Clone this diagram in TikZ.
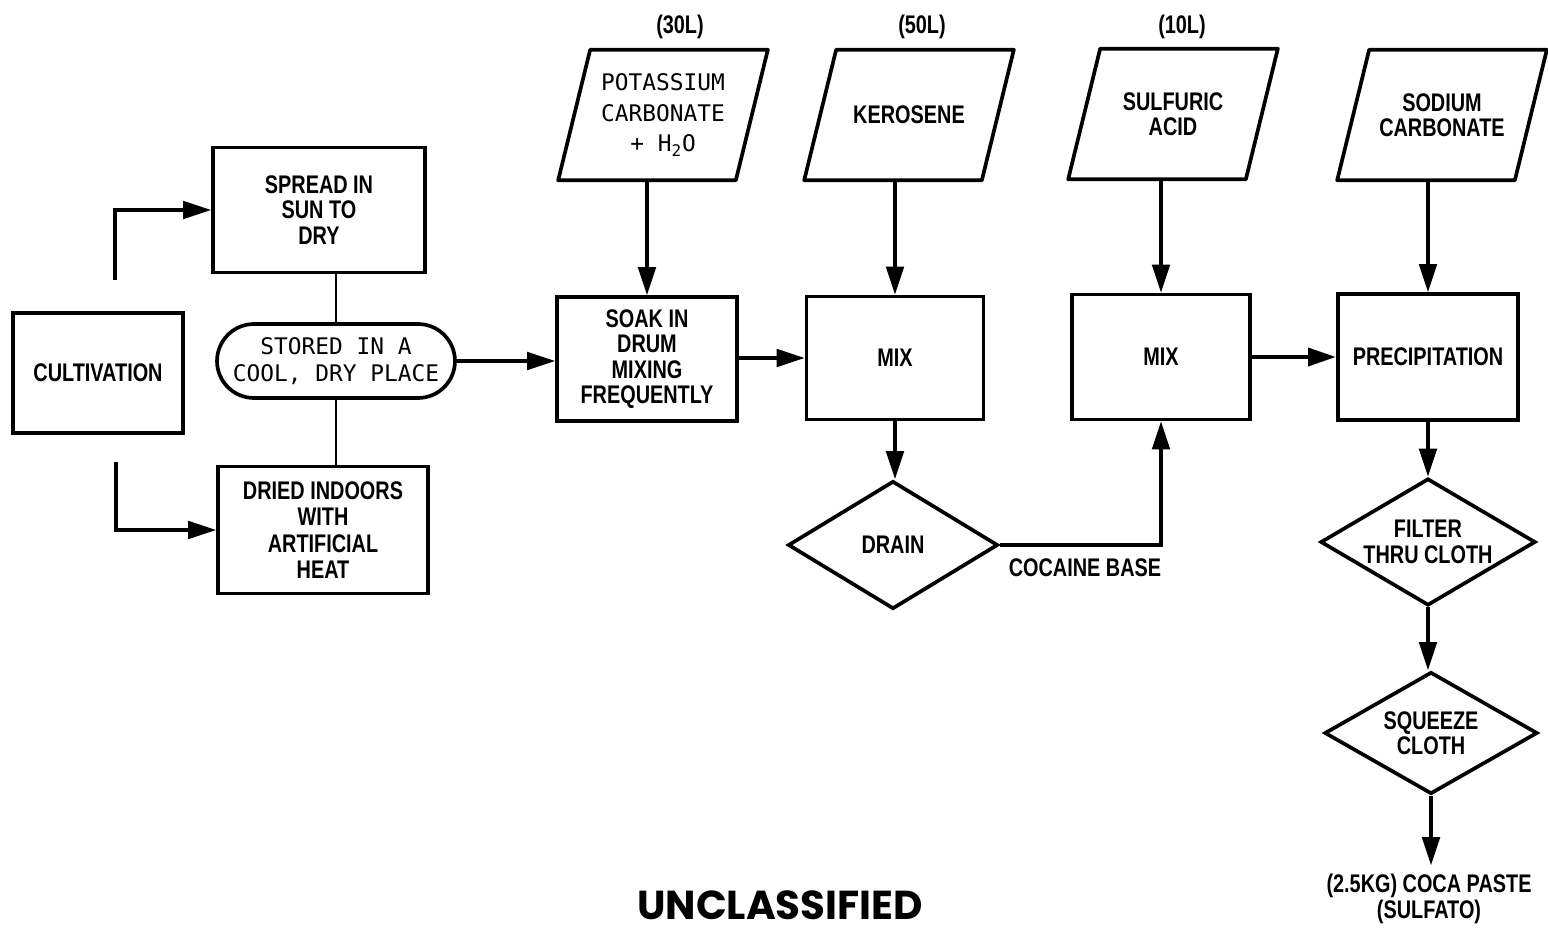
\documentclass[tikz,border=0pt]{standalone}
\usepackage{fontspec}
\setmainfont{Liberation Sans}[FakeStretch=0.78]
\newfontfamily\monofont{DejaVu Sans Mono}
\newfontfamily\bannerfont{Poppins}
\usetikzlibrary{shapes.geometric,arrows.meta}

\begin{document}
\begin{tikzpicture}[x=0.02cm,y=0.02cm]
            \tikzstyle{every node}+=[inner sep=0pt, align=center, font=\fontsize{14.5}{14.5}\selectfont\bfseries]
            \tikzstyle{box}=[draw, line width=2.1pt]
            \tikzstyle{input}=[minimum width=3.54cm, minimum height=2.6cm]
            \tikzstyle{decision}=[box, diamond, aspect=1.65, inner sep=-3pt]
            \tikzstyle{flow}=[black, line width=1.9pt, -{Triangle[length=16pt,width=10pt]}]
            \tikzstyle{mono}=[font=\monofont\fontsize{13}{15.5}\selectfont]
            \useasboundingbox (0,0) rectangle (1548,-933);
            % drying and storage
            \node [box, minimum width=3.4cm, minimum height=2.4cm] (cult) at (98,-373) {CULTIVATION};
            \node [box, minimum width=4.24cm, minimum height=2.5cm] (spread) at (319,-210) {SPREAD IN\\SUN TO\\DRY};
            \node [box, mono, rounded corners=0.74cm, minimum width=4.76cm, minimum height=1.48cm] (store) at (336,-361) {STORED IN A\\COOL, DRY PLACE};
            \node [box, minimum width=4.2cm, minimum height=2.54cm, font=\fontsize{14.5}{15}\selectfont\bfseries] (indoor) at (323,-530) {DRIED INDOORS\\WITH\\ARTIFICIAL\\HEAT};
            \coordinate (cup) at (115,-280);
            \coordinate (cdown) at (116,-462);
            \draw [flow] (cup) |- (spread.west);
            \draw [flow] (cdown) |- (indoor.west);
            \draw [black, line width=1.6pt] (spread.south -| store.north) -- (store.north);
            \draw [black, line width=1.6pt] (store.south) -- (store.south |- indoor.north);
            % chemicals
            \node [input, font=\monofont\fontsize{13}{17.5}\selectfont] (potash) at (663,-115) {POTASSIUM\\CARBONATE\\+ H\textsubscript{2}O};
            \node [input] (kero) at (909,-115) {KEROSENE};
            \node [input] (acid) at (1173,-114) {SULFURIC\\ACID};
            \node [input] (soda) at (1442,-115) {SODIUM\\CARBONATE};
            \foreach \n in {potash,kero,acid,soda}
                \draw [black, line width=2.1pt, line join=round] ([xshift=-0.32cm]\n.south west) -- ([xshift=-0.32cm]\n.south east)
                    -- ([xshift=0.32cm]\n.north east) -- ([xshift=0.32cm]\n.north west) -- cycle;
            \node (vol30) at (680,-27) {(30L)};
            \node (vol50) at (922,-27) {(50L)};
            \node (vol10) at (1182,-27) {(10L)};
            % processing
            \node [box, minimum width=3.6cm, minimum height=2.48cm] (soak) at (647,-359) {SOAK IN\\DRUM\\MIXING\\FREQUENTLY};
            \node [box, minimum width=3.54cm, minimum height=2.46cm] (mixa) at (895,-358) {MIX};
            \node [box, minimum width=3.56cm, minimum height=2.5cm] (mixb) at (1161,-357) {MIX};
            \node [box, minimum width=3.6cm, minimum height=2.52cm] (precip) at (1428,-357) {PRECIPITATION};
            \node [decision, minimum width=4.2cm, minimum height=2.56cm] (drain) at (893,-545) {DRAIN};
            \node [decision, minimum width=4.3cm, minimum height=2.54cm] (filter) at (1428,-542) {FILTER\\THRU CLOTH};
            \node [decision, minimum width=4.26cm, minimum height=2.44cm] (squeeze) at (1431,-733) {SQUEEZE\\CLOTH};
            \node (paste) at (1429,-899) {(2.5KG) COCA PASTE\\(SULFATO)};
            \node (base) at (1085,-568) {COCAINE BASE};
            \draw [flow] (store.east) -- (store.east -| soak.west);
            \draw [flow] (potash.south -| soak.north) -- (soak.north);
            \draw [flow] (soak.east |- mixa.west) -- (mixa.west);
            \draw [flow] (kero.south -| mixa.north) -- (mixa.north);
            \draw [flow] (mixa.south) -- (mixa.south |- drain.north);
            \draw [flow] (drain.east) -| (mixb.south);
            \draw [flow] (acid.south -| mixb.north) -- (mixb.north);
            \draw [flow, line width=2.8pt] (mixb.east) -- (mixb.east -| precip.west);
            \draw [flow] (soda.south -| precip.north) -- (precip.north);
            \draw [flow] (precip.south) -- (precip.south |- filter.north);
            \draw [flow] (filter.south) -- (filter.south |- squeeze.north);
            \draw [flow] (squeeze.south) -- ([yshift=5pt]squeeze.south |- paste.north);
            % marking
            \node [font=\bannerfont\fontsize{23}{25}\selectfont\bfseries] (mark) at (780,-905) {UNCLASSIFIED};
        \end{tikzpicture}
\end{document}
